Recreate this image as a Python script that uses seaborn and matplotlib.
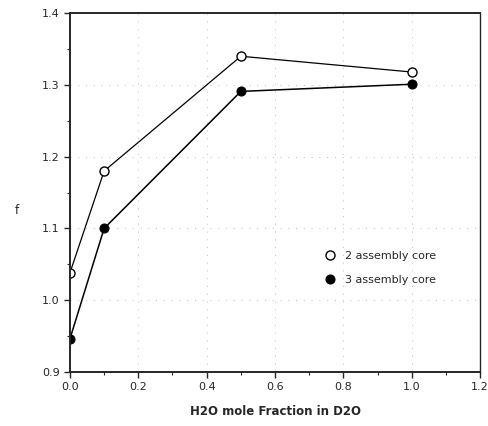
import matplotlib
matplotlib.use("Agg")
import matplotlib.pyplot as plt
import seaborn as sns
import pandas as pd
from matplotlib.ticker import MultipleLocator

# data
h2o_frac = [0.0, 0.1, 0.5, 1.0]
f_2core = [1.038, 1.180, 1.340, 1.318]
f_3core = [0.946, 1.100, 1.291, 1.301]
labels = ["2 assembly core", "3 assembly core"]

sns.set_style("ticks")
plt.rcParams['font.family'] = ['DejaVu Sans']

fig = plt.figure(figsize=(4.89, 4.26), dpi=100)
ax = fig.add_axes([0.143, 0.127, 0.839, 0.842])

df2 = pd.DataFrame({"x": h2o_frac, "f": f_2core})
df3 = pd.DataFrame({"x": h2o_frac, "f": f_3core})

sns.lineplot(data=df2, x="x", y="f", ax=ax, color="black", lw=0.9,
             marker="o", markersize=6.5, markerfacecolor="white",
             markeredgecolor="black", markeredgewidth=1.0, label=labels[0])
sns.lineplot(data=df3, x="x", y="f", ax=ax, color="black", lw=1.1,
             marker="o", markersize=6.5, markerfacecolor="black",
             markeredgecolor="black", label=labels[1])

ax.set_xlim(0, 1.2)
ax.set_ylim(0.9, 1.4)
ax.xaxis.set_major_locator(MultipleLocator(0.2))
ax.xaxis.set_minor_locator(MultipleLocator(0.1))
ax.yaxis.set_major_locator(MultipleLocator(0.1))
ax.yaxis.set_minor_locator(MultipleLocator(0.05))
ax.xaxis.set_major_formatter(matplotlib.ticker.FormatStrFormatter("%.1f"))
ax.yaxis.set_major_formatter(matplotlib.ticker.FormatStrFormatter("%.1f"))
ax.tick_params(axis="both", which="major", labelsize=8, length=4, width=1, direction="out")
ax.tick_params(axis="both", which="minor", length=2.5, width=0.8, direction="out")

ax.grid(True, which="major", color="#bbbbbb", linestyle=(0, (1, 7)), linewidth=0.7)

for side in ["top", "bottom", "left"]:
    ax.spines[side].set_linewidth(1.4)
ax.spines["right"].set_linewidth(1.0)

ax.set_xlabel("H2O mole Fraction in D2O", fontsize=8.5, fontweight="bold", labelpad=9)
ax.set_ylabel("f", fontsize=8.5, rotation=0, va="center")
ax.yaxis.set_label_coords(-0.13, 0.45)

leg = ax.legend(loc="center left", bbox_to_anchor=(0.61, 0.29), frameon=False,
                fontsize=8, handlelength=0, handletextpad=1.3, labelspacing=1.3)

fig.savefig("out.png", dpi=100)
